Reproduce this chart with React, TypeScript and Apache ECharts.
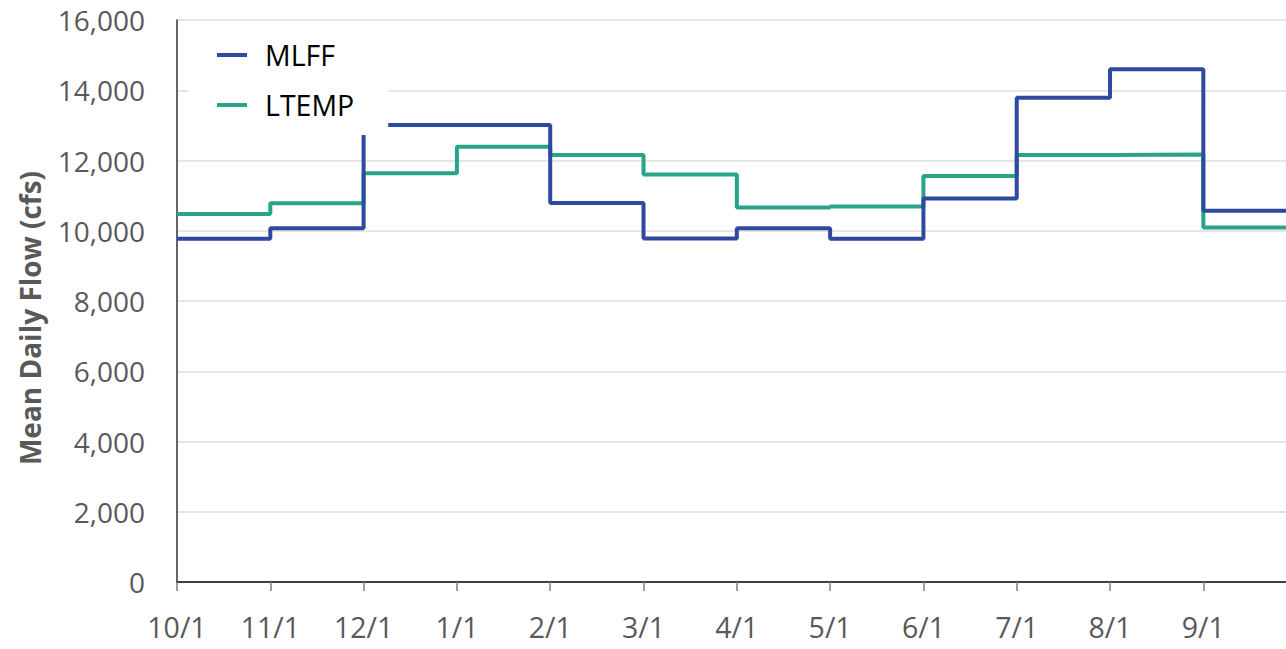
import React, { useEffect, useRef } from "react";
import * as echarts from "echarts";

const monthLabels = ["10/1", "11/1", "12/1", "1/1", "2/1", "3/1", "4/1", "5/1", "6/1", "7/1", "8/1", "9/1"];
const mlffValues = [9770, 10070, 13010, 13010, 10790, 9780, 10070, 9770, 10920, 13790, 14600, 10570];
const ltempValues = [10480, 10780, 11640, 12390, 12160, 11600, 10660, 10690, 11560, 12160, 12170, 10090];
const yTicks = { min: 0, max: 16000, interval: 2000 };

const FONT = "'Open Sans', 'DejaVu Sans', sans-serif";

function toStepData(values: number[]): [number, number][] {
  const pts: [number, number][] = values.map((v, i) => [i, v]);
  pts.push([values.length, values[values.length - 1]]);
  return pts;
}

export default function App() {
  const ref = useRef<HTMLDivElement>(null);
  useEffect(() => {
    if (!ref.current) return;
    const chart = echarts.init(ref.current, undefined, { renderer: "svg" });
    chart.setOption({
      animation: false,
      backgroundColor: "#ffffff",
      grid: { left: 177, top: 20, right: 0, bottom: 67, containLabel: false },
      legend: {
        orient: "vertical",
        left: 188,
        top: 25,
        padding: [15, 34, 15, 29],
        backgroundColor: "#ffffff",
        itemWidth: 30,
        itemHeight: 4,
        itemGap: 20,
        icon: "rect",
        textStyle: { fontFamily: FONT, fontSize: 28.5, color: "#000000", lineHeight: 30, padding: [0, 0, 0, 13] },
        data: ["MLFF", "LTEMP"],
      },
      xAxis: {
        type: "value",
        min: 0,
        max: 11.886,
        interval: 1,
        splitLine: { show: false },
        axisLine: { show: true, lineStyle: { color: "#404040", width: 2 } },
        axisTick: { show: true, length: 9, lineStyle: { color: "#7f7f7f", width: 1.5 } },
        axisLabel: {
          fontFamily: FONT,
          fontSize: 28.5,
          color: "#595959",
          margin: 30,
          showMaxLabel: false,
          formatter: (v: number) => (Number.isInteger(v) && v < monthLabels.length ? monthLabels[v] : ""),
        },
      },
      yAxis: {
        type: "value",
        min: yTicks.min,
        max: yTicks.max,
        interval: yTicks.interval,
        axisLine: { show: true, lineStyle: { color: "#333333", width: 1.5 } },
        axisTick: { show: false },
        splitLine: { show: true, lineStyle: { color: "#dcdcdc", width: 1.5 } },
        axisLabel: {
          fontFamily: FONT,
          fontSize: 28,
          color: "#595959",
          margin: 32,
          formatter: (v: number) => v.toLocaleString("en-US"),
        },
      },
      graphic: [
        {
          type: "text",
          x: 30,
          y: 318,
          rotation: Math.PI / 2,
          style: {
            text: "Mean Daily Flow (cfs)",
            font: `bold 28px ${FONT}`,
            fill: "#595959",
            align: "center",
            verticalAlign: "middle",
          },
        },
      ],
      series: [
        {
          name: "MLFF",
          type: "line",
          step: "end",
          showSymbol: false,
          symbol: "none",
          data: toStepData(mlffValues),
          itemStyle: { color: "#2e4a9f" },
          lineStyle: { color: "#2e4a9f", width: 4 },
          z: 3,
        },
        {
          name: "LTEMP",
          type: "line",
          step: "end",
          showSymbol: false,
          symbol: "none",
          data: toStepData(ltempValues),
          itemStyle: { color: "#28a48b" },
          lineStyle: { color: "#28a48b", width: 4 },
          z: 2,
        },
      ],
    });
    return () => chart.dispose();
  }, []);
  return (
    <div
      ref={ref}
      style={{ position: "absolute", left: 0, top: 0, width: 1286, height: 649, overflow: "hidden" }}
    />
  );
}
